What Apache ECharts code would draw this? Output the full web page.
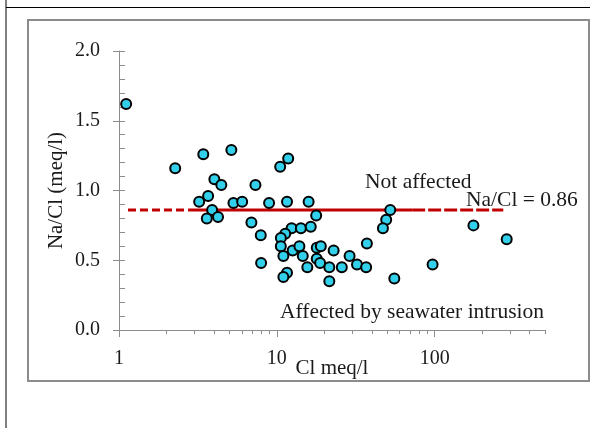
<!DOCTYPE html>
<html>
<head>
<meta charset="utf-8">
<script src="https://cdn.jsdelivr.net/npm/echarts@6/dist/echarts.min.js"></script>
<style>
html,body{margin:0;padding:0;background:#fff;}
#chart{width:590px;height:428px;}
</style>
</head>
<body>
<div id="chart"></div>
<script>
// Cl (meq/l) values of the samples
const clValues = [1.11, 2.27, 3.42, 5.15, 4.02, 4.45, 7.32, 3.22, 3.67, 5.31,
  6.03, 3.89, 3.60, 4.24, 6.90, 7.91, 7.95, 11.8, 10.5, 8.93,
  11.6, 15.9, 17.75, 52.3, 49.3, 47.0, 37.2, 55.5, 12.4, 14.2,
  16.4, 11.3, 10.6, 10.6, 12.6, 13.9, 11.0, 14.6, 17.9, 19.0,
  22.9, 17.9, 18.8, 15.6, 21.5, 21.5, 25.8, 28.9, 32.2, 36.8,
  11.6, 11.0, 176, 286, 97];
// Na/Cl ratio (meq/l) for each sample
const naClRatio = [1.62, 1.16, 1.26, 1.29, 1.08, 1.04, 1.04, 0.92, 0.96, 0.91,
  0.92, 0.86, 0.80, 0.81, 0.77, 0.68, 0.48, 1.23, 1.17, 0.91,
  0.92, 0.92, 0.82, 0.86, 0.79, 0.73, 0.62, 0.37, 0.73, 0.73,
  0.74, 0.69, 0.66, 0.60, 0.57, 0.60, 0.53, 0.53, 0.59, 0.60,
  0.57, 0.51, 0.48, 0.45, 0.45, 0.35, 0.45, 0.53, 0.47, 0.45,
  0.41, 0.38, 0.75, 0.65, 0.47];
// threshold line
const thresholdValue = 0.86;
const dashedLeftX = [1.14, 2.74];
const solidX = [2.74, 72];
const dashedRightX = [72, 272];
// axis ticks
const xMajorTicks = [1, 10, 100];
const xMinorTicks = [2,3,4,5,6,7,8,9,20,30,40,50,60,70,80,90,200,300,400,500];
const yTickInterval = 0.5;
const yMinorInterval = 0.1;

const FONT = '"Liberation Serif", "Times New Roman", serif';
const chart = echarts.init(document.getElementById('chart'), null, {renderer: 'canvas'});

const points = clValues.map((x, i) => [x, naClRatio[i]]);
const lineData = arr => arr.map(x => [x, thresholdValue]);

const option = {
  backgroundColor: '#ffffff',
  animation: false,
  grid: {left: 119, top: 51, width: 426, height: 279, containLabel: false, outerBoundsMode: 'none'},
  xAxis: [{
    type: 'log', logBase: 10, min: 1, max: 500, position: 'bottom',
    name: 'Cl meq/l', nameLocation: 'middle', nameGap: 28, nameMoveOverlap: false,
    nameTextStyle: {fontFamily: FONT, fontSize: 21, color: '#1a1a1a'},
    axisLine: {show: true, lineStyle: {color: '#8c8c8c', width: 1}},
    axisTick: {show: true, inside: false, length: 7, customValues: xMajorTicks, lineStyle: {color: '#8c8c8c'}},
    axisLabel: {show: true, customValues: xMajorTicks, margin: 19, fontFamily: FONT, fontSize: 20, color: '#1a1a1a', formatter: v => String(v)},
    splitLine: {show: false}, minorTick: {show: false}, minorSplitLine: {show: false}
  }, {
    type: 'log', logBase: 10, min: 1, max: 500, position: 'bottom', offset: 0,
    axisLine: {show: false},
    axisTick: {show: true, inside: false, length: 4, customValues: xMinorTicks, lineStyle: {color: '#8c8c8c'}},
    axisLabel: {show: false},
    splitLine: {show: false}
  }],
  yAxis: [{
    type: 'value', min: 0, max: 2, interval: yTickInterval, position: 'left',
    name: 'Na/Cl (meq/l)', nameLocation: 'middle', nameGap: 52, nameRotate: 90, nameMoveOverlap: false,
    nameTextStyle: {fontFamily: FONT, fontSize: 21, color: '#1a1a1a'},
    axisLine: {show: true, lineStyle: {color: '#8c8c8c', width: 1}},
    axisTick: {show: true, inside: false, length: 6, lineStyle: {color: '#8c8c8c'}},
    axisLabel: {show: true, margin: 19, fontFamily: FONT, fontSize: 20, color: '#1a1a1a', formatter: v => v.toFixed(1)},
    splitLine: {show: false}
  }, {
    type: 'value', min: 0, max: 2, interval: yMinorInterval, position: 'left', offset: 0,
    axisLine: {show: false},
    axisTick: {show: true, inside: true, length: 6, lineStyle: {color: '#8c8c8c'}},
    axisLabel: {show: false},
    splitLine: {show: false}
  }],
  series: [{
    type: 'line', data: lineData(dashedLeftX), symbol: 'none', silent: true, z: 1,
    lineStyle: {color: '#c00000', width: 3, type: [8, 4]}
  }, {
    type: 'line', data: lineData(solidX), symbol: 'none', silent: true, z: 1,
    lineStyle: {color: '#c00000', width: 3, type: 'solid'}
  }, {
    type: 'line', data: lineData(dashedRightX), symbol: 'none', silent: true, z: 1,
    lineStyle: {color: '#c00000', width: 3, type: [13, 3]}
  }, {
    type: 'scatter', data: points, symbol: 'circle', symbolSize: 10, z: 3,
    itemStyle: {color: '#33d0ec', borderColor: '#000000', borderWidth: 2, opacity: 1}
  }],
  graphic: [
    {type: 'line', shape: {x1: 6, y1: 0, x2: 6, y2: 428}, style: {stroke: '#000', lineWidth: 1}, z: 0, silent: true},
    {type: 'line', shape: {x1: 6, y1: 7.5, x2: 590, y2: 7.5}, style: {stroke: '#000', lineWidth: 1}, z: 0, silent: true},
    {type: 'rect', shape: {x: 28, y: 20, width: 561, height: 361}, style: {fill: 'none', stroke: '#8c8c8c', lineWidth: 2}, z: 0, silent: true},
    {type: 'text', left: 365, top: 171, style: {text: 'Not affected', fontFamily: FONT, fontSize: 21.5, fill: '#1a1a1a'}, z: 5},
    {type: 'text', left: 466, top: 189, style: {text: 'Na/Cl = 0.86', fontFamily: FONT, fontSize: 21.5, fill: '#1a1a1a'}, z: 5},
    {type: 'text', left: 280, top: 301, style: {text: 'Affected by seawater intrusion', fontFamily: FONT, fontSize: 21.5, fill: '#1a1a1a'}, z: 5}
  ]
};
chart.setOption(option);
</script>
</body>
</html>
